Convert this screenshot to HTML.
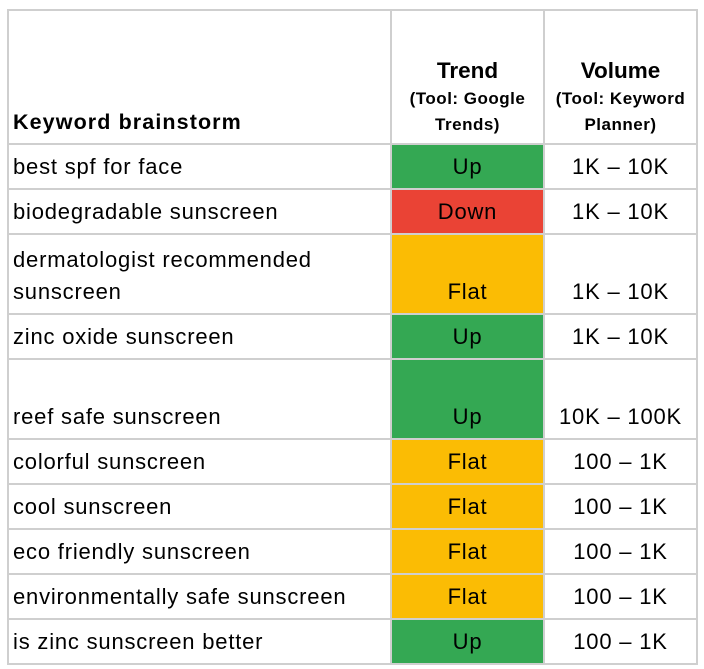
<!DOCTYPE html>
<html><head><meta charset="utf-8"><style>
body{margin:0;background:#fff;width:704px;height:669px;position:relative;font-family:"Liberation Sans",Arial,sans-serif;color:#000;overflow:hidden}
.c{position:absolute;box-sizing:border-box;display:flex;align-items:flex-end;font-size:22px;letter-spacing:0.8px;line-height:32px;padding-bottom:5px}
.l{padding-left:6px}
.m{justify-content:center;text-align:center}
.h{position:absolute;left:7px;width:691px;height:2px;background:#cfcfcf}
.v{position:absolute;top:9px;width:2px;height:656px;background:#cfcfcf}
.sub{font-weight:bold;font-size:17px;letter-spacing:0.5px;line-height:26px}
</style></head><body>
<div id="t"></div>
<script>
const keywords=["best spf for face","biodegradable sunscreen","dermatologist recommended sunscreen","zinc oxide sunscreen","reef safe sunscreen","colorful sunscreen","cool sunscreen","eco friendly sunscreen","environmentally safe sunscreen","is zinc sunscreen better"];
const trends=["Up","Down","Flat","Up","Up","Flat","Flat","Flat","Flat","Up"];
const volumes=["1K – 10K","1K – 10K","1K – 10K","1K – 10K","10K – 100K","100 – 1K","100 – 1K","100 – 1K","100 – 1K","100 – 1K"];
const tall=[false,false,true,false,true,false,false,false,false,false];
const colors={Up:"#34a853",Down:"#ea4335",Flat:"#fbbc04"};
const b=document.body;
function add(cls,x,y,w,h,html,name){const d=document.createElement('div');d.className=cls;d.style.left=x+'px';d.style.top=y+'px';d.style.width=w+'px';d.style.height=h+'px';if(html!==null)d.innerHTML=html;


b.appendChild(d);return d;}
add('c l',7,9,383,134,'<b style="font-size:21.5px;letter-spacing:1.1px">Keyword brainstorm</b>','header-keyword');
add('c m',392,9,151,134,'<div style="padding-bottom:0px;letter-spacing:0"><div style="font-weight:bold;font-size:22.5px;line-height:30px">Trend</div><div class="sub">(Tool: Google<br>Trends)</div></div>','header-trend');
add('c m',545,9,151,134,'<div style="padding-bottom:0px;letter-spacing:0"><div style="font-weight:bold;font-size:22.5px;line-height:30px">Volume</div><div class="sub">(Tool: Keyword<br>Planner)</div></div>','header-volume');
let y=143;const ys=[9,143];
for(let i=0;i<keywords.length;i++){const h=tall[i]?80:45;
add('c l',7,y,383,h,keywords[i],'keyword-cell');
const t=add('c m',392,y+2,151,h-2,trends[i],'trend-cell');t.style.background=colors[trends[i]];
add('c m',545,y,151,h,volumes[i],'volume-cell');
y+=h;ys.push(y);}
ys.forEach(v=>{add('h',7,v,691,2,null,'row-divider');});
[7,390,543,696].forEach(x=>{add('v',x,9,2,656,null,'column-divider');});
</script>
</body></html>
